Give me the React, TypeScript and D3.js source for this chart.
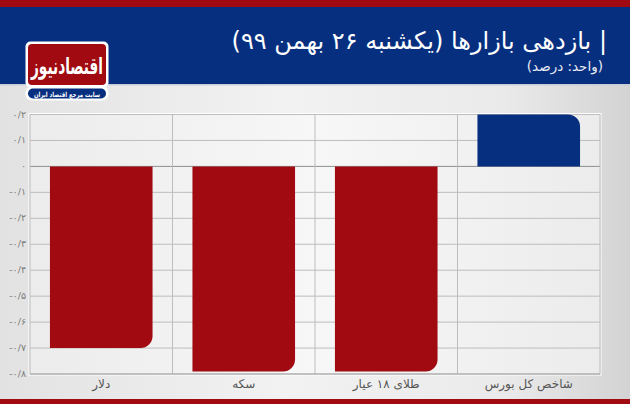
import * as d3 from "d3";

const W = 630, H = 404;
const categories = ["دلار", "سکه", "طلای ۱۸ عیار", "شاخص کل بورس"];
const values = [-0.7, -0.79, -0.79, 0.2];
const yDomain: [number, number] = [-0.8, 0.2];

const FA = "DejaVu Sans, sans-serif";
const RED = "#a00a10";
const BLUE = "#072f80";

const faDigits = (s: string) => s.replace(/[0-9]/g, (d) => "۰۱۲۳۴۵۶۷۸۹"[+d]);
const fmt = (v: number) => {
  if (Math.abs(v) < 1e-9) return "۰";
  return faDigits(d3.format(".1f")(v).replace("−", "-")).replace(".", "/");
};

const M = { left: 30, right: 600, top: 114.5, bottom: 374 };

export default function App() {
  const cell = d3.scaleBand(categories, [M.left, M.right]).padding(0);
  const xBar = d3.scaleBand(categories, [M.left, M.right]).paddingInner(0.28).paddingOuter(0.14);
  const y = d3.scaleLinear(yDomain, [M.bottom, M.top]);
  const ticks = y.ticks(10);
  const bw = xBar.bandwidth();
  const r = 12;

  const barPath = (x0: number, v: number) => {
    const y0 = y(0), y1 = y(v);
    const p = d3.path();
    const dir = v >= 0 ? 1 : -1;
    p.moveTo(x0, y0);
    p.lineTo(x0, y1);
    p.lineTo(x0 + bw - r, y1);
    p.arcTo(x0 + bw, y1, x0 + bw, y1 + dir * r, r);
    p.lineTo(x0 + bw, y0);
    p.closePath();
    return p.toString();
  };

  return (
    <svg width={W} height={H} style={{ display: "block", position: "absolute", left: 0, top: 0 }}>
      <defs>
        <linearGradient id="bg" x1="0" x2="1" y1="0" y2="0">
          <stop offset="0" stopColor="#e2e2e2" />
          <stop offset="0.45" stopColor="#f2f2f2" />
          <stop offset="0.8" stopColor="#eaeaea" />
          <stop offset="1" stopColor="#d3d3d3" />
        </linearGradient>
        <linearGradient id="plotbg" x1="0" x2="1" y1="0" y2="0">
          <stop offset="0" stopColor="#ececec" />
          <stop offset="0.5" stopColor="#f7f7f7" />
          <stop offset="1" stopColor="#ececec" />
        </linearGradient>
      </defs>
      <rect x={0} y={0} width={W} height={H} fill="url(#bg)" />
      {/* header */}
      <rect x={0} y={0} width={W} height={84} fill={BLUE} />
      <rect x={0} y={0} width={W} height={7} fill={RED} />
      <rect x={0} y={84} width={W} height={1.5} fill="#c9ccd6" />
      <rect x={0} y={399} width={W} height={5} fill={RED} />

      <text x={607} y={49} direction="rtl" textAnchor="start" fill="#fff" fontFamily={FA} fontSize={24}>
        | بازدهی بازارها (یکشنبه ۲۶ بهمن ۹۹)
      </text>
      <text x={603} y={71} direction="rtl" textAnchor="start" fill="#e8ecf5" fontFamily={FA} fontSize={13.5}>
        (واحد: درصد)
      </text>

      {/* logo */}
      <rect x={25.5} y={41.5} width={83} height={46} rx={5} fill="#fff" />
      <rect x={28} y={44} width={78} height={41} rx={4} fill={RED} />
      <text x={67} y={74} textAnchor="middle" direction="rtl" fill="#fff" fontFamily={FA}
        fontWeight="bold" fontSize={23} textLength={72} lengthAdjust="spacingAndGlyphs">
        اقتصادنیوز
      </text>
      <rect x={25.5} y={86.5} width={83} height={14} rx={6} fill="#fff" />
      <rect x={28} y={88.5} width={78} height={10} rx={5} fill={BLUE} />
      <text x={67} y={96.5} textAnchor="middle" direction="rtl" fill="#fff" fontFamily={FA}
        fontWeight="bold" fontSize={7} textLength={66} lengthAdjust="spacingAndGlyphs">
        سایت مرجع اقتصاد ایران
      </text>

      {/* plot */}
      <rect x={M.left - 1} y={M.top - 1} width={M.right - M.left + 2} height={M.bottom - M.top + 2}
        fill="none" stroke="#fff" strokeWidth={1} />
      <rect x={M.left} y={M.top} width={M.right - M.left} height={M.bottom - M.top} fill="url(#plotbg)" />
      {ticks.map((t) => (
        <line key={t} x1={M.left} x2={M.right} y1={y(t)} y2={y(t)}
          stroke={Math.abs(t) < 1e-9 ? "#8f8f8f" : "#bdbdbd"} strokeWidth={1} />
      ))}
      {categories.map((c) => (
        <line key={c} x1={cell(c)!} x2={cell(c)!} y1={M.top} y2={M.bottom} stroke="#bdbdbd" />
      ))}
      <line x1={M.right} x2={M.right} y1={M.top} y2={M.bottom} stroke="#bdbdbd" />
      <line x1={M.left} x2={M.right} y1={M.bottom} y2={M.bottom} stroke="#a8a8a8" />

      {categories.map((c, i) => (
        <path key={c} d={barPath(xBar(c)!, values[i])} fill={values[i] >= 0 ? BLUE : RED} />
      ))}

      {ticks.map((t) => (
        <text key={t} x={26} y={y(t) + 3} textAnchor="end" direction="ltr" fill="#7a7a7a"
          fontFamily={FA} fontSize={9.5}>
          {fmt(t)}
        </text>
      ))}
      {categories.map((c) => (
        <text key={c} x={cell(c)! + cell.bandwidth() / 2} y={388} textAnchor="middle" direction="rtl"
          fill="#555" fontFamily={FA} fontSize={12}>
          {c}
        </text>
      ))}
    </svg>
  );
}
